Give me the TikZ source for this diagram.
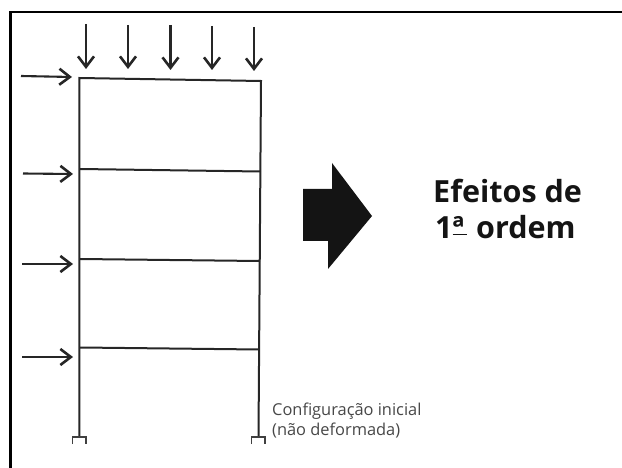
\documentclass[tikz,border=0pt]{standalone}
\usepackage{fontspec}
\usetikzlibrary{arrows.meta}
\setmainfont{Open Sans}
\newfontfamily\smallfont{Open Sans}
\newcommand{\ordA}{\rlap{\rule[3.5pt]{14pt}{1.5pt}}ª}
\tikzset{
  x=1pt,y=-1pt,
  member/.style={line width=2pt,draw=black!85,line cap=round},
  load/.style={line width=2.1pt,draw=black!85,-{Straight Barb[length=10.5pt,width=16pt,line width=2.6pt]}},
  foot/.style={line width=1.6pt,draw=black!75},
  rim/.style={line width=2.4pt,draw=black},
  bigarrow/.style={fill=black!92,draw=none},
  headline/.style={anchor=base west,inner sep=0pt,font=\fontsize{30.5}{30.5}\selectfont\bfseries,text=black!92},
  note/.style={anchor=base west,inner sep=0pt,font=\smallfont\fontsize{16.4}{16.4}\selectfont,text=black!72},
}
\begin{document}
\begin{tikzpicture}
\useasboundingbox (0,0) rectangle (622,468);
% frame rim
\coordinate (rimA) at (10.5,468);
\coordinate (rimB) at (10.5,12);
\coordinate (rimC) at (622,12);
\draw[rim] (rimA) -- (rimB) -- (rimC);
% joints
\coordinate (t1) at (79.3,78);
\coordinate (t2) at (261,81);
\coordinate (f1a) at (80,169);
\coordinate (f1b) at (260,171.5);
\coordinate (f2a) at (80,259);
\coordinate (f2b) at (259.3,261);
\coordinate (f3a) at (80,347.5);
\coordinate (f3b) at (258.8,349.5);
\coordinate (b1) at (79.3,437);
\coordinate (b2) at (258.5,437);
\draw[member] (b1) -- (t1) -- (t2) -- (b2);
\draw[member] (f1a) -- (f1b);
\draw[member] (f2a) -- (f2b);
\draw[member] (f3a) -- (f3b);
% supports
\coordinate (s1a) at (72.5,444);
\coordinate (s1b) at (72.5,437);
\coordinate (s1c) at (86,437);
\coordinate (s1d) at (86,444);
\coordinate (s2a) at (251.5,444);
\coordinate (s2b) at (251.5,437);
\coordinate (s2c) at (265,437);
\coordinate (s2d) at (265,444);
\draw[foot] (s1a) -- (s1b) -- (s1c) -- (s1d);
\draw[foot] (s2a) -- (s2b) -- (s2c) -- (s2d);
% vertical loads
\foreach \n/\x/\ya/\yb in {1/86/24/69,2/128/25/69,3/170.5/25/70,4/212/26/70,5/254/27/71}{
  \coordinate (va\n) at (\x,\ya);
  \coordinate (vb\n) at (\x,\yb);
  \draw[load] (va\n) -- (vb\n);
}
% lateral loads
\foreach \n/\xa/\ya/\xb/\yb in {1/21/76/72/77,2/23/173.5/73/174,3/22/264/73/264,4/22/357/73/357}{
  \coordinate (ha\n) at (\xa,\ya);
  \coordinate (hb\n) at (\xb,\yb);
  \draw[load] (ha\n) -- (hb\n);
}
% big arrow
\fill[bigarrow] (303,189) -- (332,189) -- (332,163) -- (372,216) -- (328,269) -- (328,241) -- (303,241) -- cycle;
% texts
\node[headline] (h1) at (433,203) {Efeitos de};
\node[headline] (h2) at (435,239) {1\ordA\hspace{4pt} ordem};
\node[note] (n1) at (272,415) {Configuração inicial};
\node[note] (n2) at (272,435) {(não deformada)};
\end{tikzpicture}
\end{document}
